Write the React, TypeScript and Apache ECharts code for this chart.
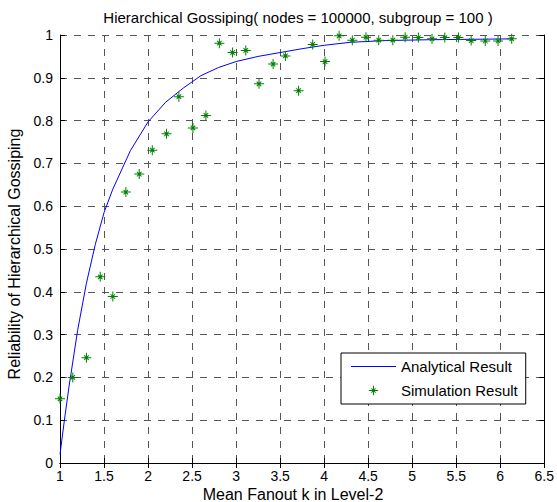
import React, { useEffect, useRef } from "react";
import * as echarts from "echarts";

const titleText = "Hierarchical Gossiping( nodes = 100000, subgroup = 100 )";
const xLabel = "Mean Fanout k in Level-2";
const yLabel = "Reliability of Hierarchical Gossiping";
const seriesNames = ["Analytical Result", "Simulation Result"];

const analyticX = [1.0, 1.05, 1.1, 1.2, 1.3, 1.4, 1.5, 1.6, 1.8, 2.0, 2.2, 2.4, 2.6, 2.8, 3.0, 3.25, 3.5, 3.75, 4.0, 4.3, 4.7, 5.2, 5.7, 6.15];
const analyticY = [0.02, 0.1, 0.175, 0.31, 0.42, 0.51, 0.585, 0.64, 0.73, 0.797, 0.843, 0.876, 0.905, 0.924, 0.938, 0.95, 0.959, 0.968, 0.976, 0.983, 0.987, 0.989, 0.99, 0.991];

const simX = [1.0, 1.145, 1.3, 1.457, 1.6, 1.748, 1.9, 2.048, 2.21, 2.35, 2.51, 2.657, 2.81, 2.96, 3.11, 3.26, 3.42, 3.56, 3.71, 3.87, 4.01, 4.17, 4.32, 4.475, 4.62, 4.78, 4.92, 5.07, 5.225, 5.37, 5.525, 5.67, 5.83, 5.975, 6.13];
const simY = [0.15, 0.2, 0.246, 0.435, 0.389, 0.633, 0.675, 0.731, 0.769, 0.856, 0.783, 0.812, 0.981, 0.959, 0.964, 0.886, 0.932, 0.951, 0.87, 0.978, 0.938, 0.998, 0.988, 0.995, 0.988, 0.988, 0.995, 0.994, 0.991, 0.994, 0.994, 0.987, 0.986, 0.986, 0.991];

const xMin = 1;
const xMax = 6.5;
const xStep = 0.5;
const yMin = 0;
const yMax = 1;
const yStep = 0.1;

const FONT = '"Liberation Sans", Arial, Helvetica, sans-serif';

const STAR =
  "M4.5 0 L5.5 0 L5.5 10 L4.5 10 Z " +
  "M0 4.5 L10 4.5 L10 5.5 L0 5.5 Z " +
  "M2.4 3.1 L3.1 2.4 L7.6 6.9 L6.9 7.6 Z " +
  "M6.9 2.4 L7.6 3.1 L3.1 7.6 L2.4 6.9 Z";

const STAR_LEGEND =
  "M0 0 L0.01 0 L0 0.01 Z M15 15 L14.99 15 L15 14.99 Z " +
  "M7 2.5 L8 2.5 L8 12.5 L7 12.5 Z " +
  "M2.5 7 L12.5 7 L12.5 8 L2.5 8 Z " +
  "M4.9 5.6 L5.6 4.9 L10.1 9.4 L9.4 10.1 Z " +
  "M9.4 4.9 L10.1 5.6 L5.6 10.1 L4.9 9.4 Z";

const LINE_LEGEND = "M0 0 L45 0 L45 1 L0 1 Z";

export default function App() {
  const ref = useRef<HTMLDivElement>(null);

  useEffect(() => {
    if (!ref.current) return;
    const chart = echarts.init(ref.current, null, { renderer: "svg" });

    const gridLine = { show: true, lineStyle: { color: "#555555", width: 1, type: [7, 7] as any } };
    const axisLineStyle = { show: true, lineStyle: { color: "#000", width: 1 } };
    const tick = { show: true, inside: true, length: 5, lineStyle: { color: "#000", width: 1 } };

    chart.setOption({
      animation: false,
      backgroundColor: "#ffffff",
      textStyle: { fontFamily: FONT },
      grid: { left: 60, right: 12, top: 35, bottom: 39, containLabel: false },
      xAxis: [
        {
          type: "value",
          min: xMin,
          max: xMax,
          interval: xStep,
          position: "bottom",
          axisLine: axisLineStyle,
          axisTick: tick,
          axisLabel: { show: true, color: "#000", fontSize: 14, fontFamily: FONT, margin: 6 },
          splitLine: gridLine,
        },
        {
          type: "value",
          min: xMin,
          max: xMax,
          interval: xStep,
          position: "top",
          axisLine: axisLineStyle,
          axisTick: tick,
          axisLabel: { show: false },
          splitLine: { show: false },
        },
      ],
      yAxis: [
        {
          type: "value",
          min: yMin,
          max: yMax,
          interval: yStep,
          position: "left",
          axisLine: axisLineStyle,
          axisTick: tick,
          axisLabel: { show: true, color: "#000", fontSize: 14, fontFamily: FONT, margin: 7 },
          splitLine: gridLine,
        },
        {
          type: "value",
          min: yMin,
          max: yMax,
          interval: yStep,
          position: "right",
          axisLine: axisLineStyle,
          axisTick: tick,
          axisLabel: { show: false },
          splitLine: { show: false },
        },
      ],
      legend: {
        show: true,
        orient: "vertical",
        left: 341,
        top: 353,
        padding: [6, 8, 6, 10],
        itemWidth: 45,
        itemHeight: 14,
        itemGap: 9,
        borderColor: "#000",
        borderWidth: 1,
        backgroundColor: "#fff",
        textStyle: { color: "#000", fontSize: 15, fontFamily: FONT, lineHeight: 14 },
        data: [
          { name: seriesNames[0], icon: "path://" + LINE_LEGEND },
          { name: seriesNames[1], icon: "path://" + STAR_LEGEND },
        ],
      },
      graphic: [
        {
          type: "text",
          x: 298,
          y: 17,
          style: {
            text: titleText,
            fill: "#000",
            font: `15px ${FONT}`,
            align: "center",
            verticalAlign: "middle",
          },
        },
        {
          type: "text",
          x: 293,
          y: 494,
          style: {
            text: xLabel,
            fill: "#000",
            font: `16px ${FONT}`,
            align: "center",
            verticalAlign: "middle",
          },
        },
        {
          type: "text",
          x: 14,
          y: 254,
          rotation: Math.PI / 2,
          style: {
            text: yLabel,
            fill: "#000",
            font: `16px ${FONT}`,
            align: "center",
            verticalAlign: "middle",
          },
        },
      ],
      series: [
        {
          name: seriesNames[0],
          type: "line",
          xAxisIndex: 0,
          yAxisIndex: 0,
          data: analyticX.map((x, i) => [x, analyticY[i]]),
          symbol: "none",
          smooth: false,
          lineStyle: { color: "#0000ff", width: 1 },
          itemStyle: { color: "#0000ff" },
          z: 3,
        },
        {
          name: seriesNames[1],
          type: "scatter",
          xAxisIndex: 0,
          yAxisIndex: 0,
          data: simX.map((x, i) => [x, simY[i]]),
          symbol: "path://" + STAR,
          symbolSize: 10,
          symbolKeepAspect: true,
          itemStyle: { color: "#008000", opacity: 1 },
          z: 4,
        },
      ],
    });

    return () => chart.dispose();
  }, []);

  return (
    <div
      ref={ref}
      style={{ position: "absolute", left: 0, top: 0, width: 557, height: 502 }}
    />
  );
}
